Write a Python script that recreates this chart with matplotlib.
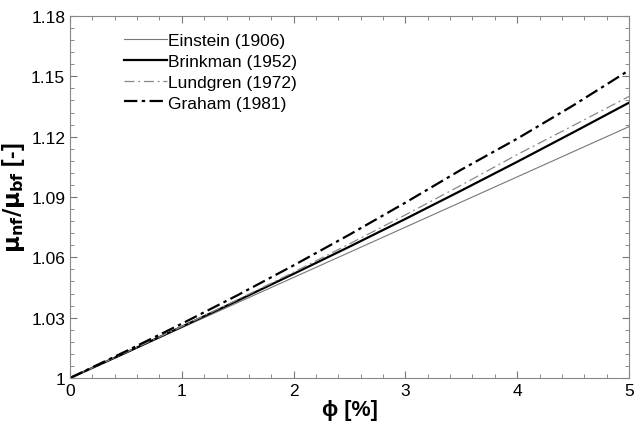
import matplotlib
matplotlib.use("Agg")
import matplotlib.pyplot as plt
import numpy as np
from matplotlib.ticker import FixedLocator, MultipleLocator

plt.rcParams['font.family'] = ['Liberation Sans', 'DejaVu Sans']

phi = [0, 0.5, 1, 1.5, 2, 2.5, 3, 3.5, 4, 4.5, 5]
einstein = [1, 1.0125, 1.025, 1.0375, 1.05, 1.0625, 1.075, 1.0875, 1.1, 1.1125, 1.125]
brinkman = [1, 1.0126, 1.0255, 1.0385, 1.0518, 1.0653, 1.0791, 1.0932, 1.1075, 1.1221, 1.1369]
lundgren = [1, 1.0127, 1.0256, 1.0390, 1.0526, 1.0667, 1.0811, 1.0959, 1.1111, 1.1255, 1.1400]
graham = [1, 1.0133, 1.0270, 1.0412, 1.0560, 1.0713, 1.0872, 1.1036, 1.1190, 1.1355, 1.1530]
ytick_labels = ['1', '1.03', '1.06', '1.09', '1.12', '1.15', '1.18']

fig = plt.figure(figsize=(6.4, 4.31), dpi=100)
ax = fig.add_axes([70/640, 1-379/431, (629-70)/640, (379-17)/431])

ax.plot(phi, einstein, color='#777777', lw=0.8, label='Einstein (1906)')
ax.plot(phi, brinkman, color='black', lw=1.6, label='Brinkman (1952)')
ax.plot(phi, lundgren, color='#888888', lw=0.9, ls=(0, (8, 3, 1.5, 3)), label='Lundgren (1972)')
ax.plot(phi, graham, color='black', lw=1.6, ls=(0, (6, 2, 1.5, 2)), label='Graham (1981)')

ax.set_xlim(0, 5)
ax.set_ylim(1, 1.18)
ax.xaxis.set_major_locator(MultipleLocator(1))
ax.xaxis.set_minor_locator(MultipleLocator(0.2))
yt = [float(t) for t in ytick_labels]
ax.set_yticks(yt)
ax.set_yticklabels(ytick_labels)
ax.yaxis.set_minor_locator(FixedLocator(np.linspace(1, 1.18, 31)))
ax.tick_params(which='both', direction='in', top=True, right=True, colors='#777777',
               labelcolor='black', labelsize=12.5)
ax.tick_params(which='major', length=5)
ax.tick_params(which='minor', length=3)
for s in ax.spines.values():
    s.set_color('#888888')

ax.set_xlabel('ϕ [%]', fontsize=15.5, fontweight='bold', labelpad=1)
ax.set_ylabel(r'$\mathbf{\mu_{nf}/\mu_{bf}}$ [-]', fontsize=16.5, fontweight='bold', labelpad=3)

leg = ax.legend(loc='upper left', frameon=False, fontsize=12.5, handlelength=2.5,
                handletextpad=0.05, labelspacing=0.33, bbox_to_anchor=(0.068, 0.997))

fig.savefig('out.png', dpi=100)
